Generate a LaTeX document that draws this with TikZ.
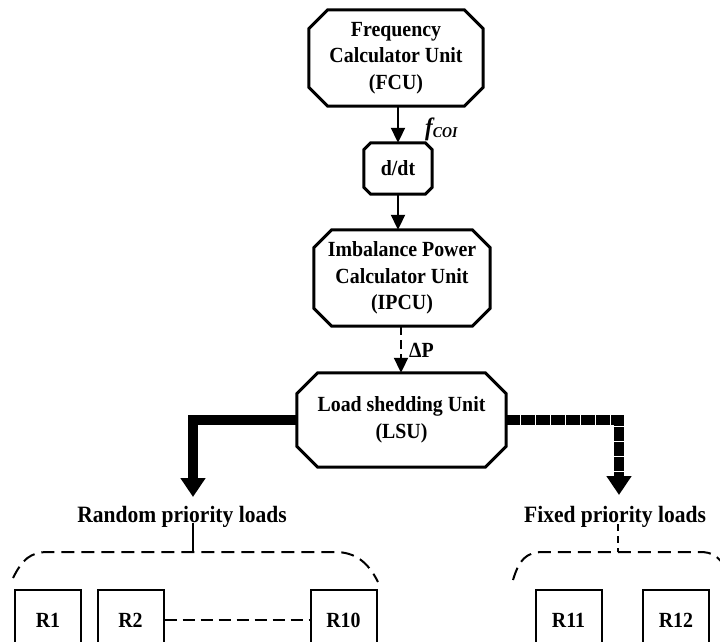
\documentclass[tikz,border=0pt]{standalone}
\usepackage{fontspec}
\setmainfont{Liberation Serif}[FakeStretch=0.92]
\usetikzlibrary{arrows.meta}
% chamfered outline drawn around a named node: #1 node, #2 corner cut
\newcommand\octbox[2]{%
  \draw[unitline] ([xshift=#2]#1.north west) -- ([xshift=-#2]#1.north east)
    -- ([yshift=-#2]#1.north east) -- ([yshift=#2]#1.south east)
    -- ([xshift=-#2]#1.south east) -- ([xshift=#2]#1.south west)
    -- ([yshift=#2]#1.south west) -- ([yshift=-#2]#1.north west) -- cycle;}
\begin{document}
\begin{tikzpicture}[x=1pt,y=-1pt,
  txt/.style={font=\fontsize{21.6}{26.5}\selectfont\bfseries, align=center, inner sep=0pt},
  bigtxt/.style={font=\fontsize{23.4}{26}\selectfont\bfseries, inner sep=0pt},
  unit/.style 2 args={txt, minimum width=#1, minimum height=#2},
  unitline/.style={line width=3pt, line join=miter},
  flow/.style={line width=2pt, -{Triangle[length=15pt,width=14pt]}},
  heavy/.style={line width=10.5pt, line join=miter, -{Triangle[length=19pt,width=24pt]}},
  group/.style={line width=2pt, dash pattern=on 13pt off 7pt},
  rbox/.style={txt, draw, line width=2pt, minimum width=66pt, minimum height=60pt}]
\clip (0,0) rectangle (720,642);

% processing chain
\node[unit={174pt}{96pt}] (fcu) at (396,58) {Frequency\\Calculator Unit\\(FCU)};
\node[unit={68pt}{51pt}] (ddt) at (398,168.5) {d/dt};
\node[unit={176pt}{96pt}] (ipcu) at (402,278) {Imbalance Power\\Calculator Unit\\(IPCU)};
\node[unit={209pt}{94pt}] (lsu) at (401.5,420) {Load shedding Unit\\(LSU)};
\octbox{fcu}{19pt}
\octbox{ddt}{7pt}
\octbox{ipcu}{18pt}
\octbox{lsu}{21pt}

\draw[flow] (ddt.north |- fcu.south) -- (ddt.north);
\node[anchor=west, inner sep=0pt] (fcoi) at (425,129)
  {\fontsize{25}{25}\selectfont\bfseries\itshape f\raisebox{-0.2ex}{\fontsize{15}{15}\selectfont COI}};
\draw[flow] (ddt.south) -- (ddt.south |- ipcu.north);
\draw[flow, dash pattern=on 9pt off 5pt] (ipcu.south -| 401,0) -- (lsu.north -| 401,0);
\node[txt, anchor=west] (dp) at (409,350) {ΔP};

% branches to the two load groups
\coordinate (rtip) at (193,497);
\coordinate (ftip) at (619,495);
\draw[heavy] (lsu.west) -| (rtip);
\draw[heavy, dash pattern=on 14pt off 1pt] (lsu.east) -| (ftip);

\node[bigtxt] (rpl) at (182,517) {Random priority loads};
\node[bigtxt] (fpl) at (615,517) {Fixed priority loads};

\coordinate (rtop) at (193,552);
\coordinate (ftop) at (618,552);
\draw[line width=2pt] (193,523) -- (rtop);
\draw[line width=2pt, dash pattern=on 7pt off 5pt] (618,524) -- (ftop);

% group brackets
\draw[group] (13,578) .. controls (22,560) and (30,552) .. (48,552)
  -- (rtop) -- (335,552) .. controls (355,552) and (368,562) .. (378,582);
\draw[group] (513,580) .. controls (519,560) and (526,552) .. (543,552)
  -- (ftop) -- (700,552) .. controls (712,552) and (718,556) .. (726,568);

% loads
\node[rbox] (r1) at (48,620) {R1};
\node[rbox] (r2) at (130.5,620) {R2};
\node[rbox] (r10) at (343.5,620) {R10};
\node[rbox] (r11) at (568.5,620) {R11};
\node[rbox] (r12) at (676,620) {R12};
\draw[line width=2pt, dash pattern=on 12pt off 6pt] (r2.east) -- (r10.west);
\end{tikzpicture}
\end{document}
